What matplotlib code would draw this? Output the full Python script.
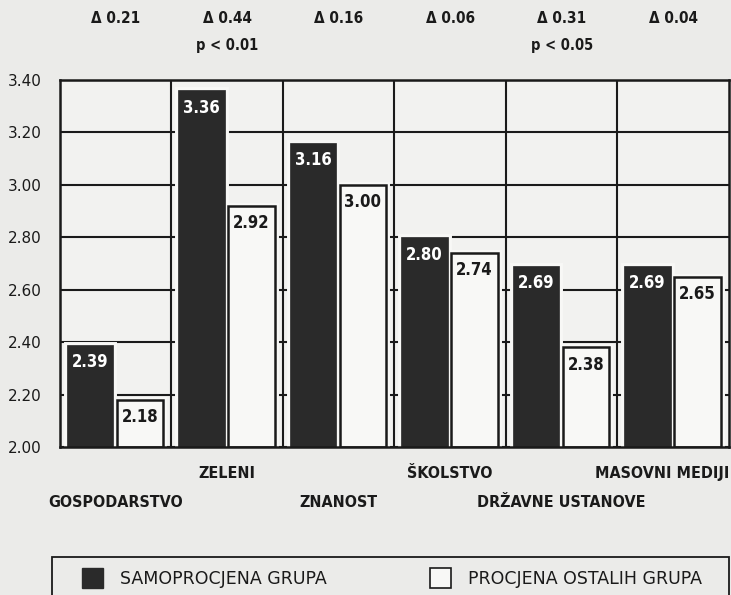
import matplotlib
matplotlib.use("Agg")
import matplotlib.pyplot as plt
import matplotlib.patches as patches
from matplotlib import font_manager
import numpy as np

# ---- data ----
categories = ["GOSPODARSTVO", "ZELENI", "ZNANOST", "ŠKOLSTVO",
              "DRŽAVNE USTANOVE", "MASOVNI MEDIJI"]
self_rating = [2.39, 3.36, 3.16, 2.80, 2.69, 2.69]
others_rating = [2.18, 2.92, 3.00, 2.74, 2.38, 2.65]
delta_labels = ["Δ 0.21", "Δ 0.44", "Δ 0.16", "Δ 0.06", "Δ 0.31", "Δ 0.04"]
p_labels = ["", "p < 0.01", "", "", "p < 0.05", ""]
series_names = ["SAMOPROCJENA GRUPA", "PROCJENA OSTALIH GRUPA"]
y_ticks = [2.00, 2.20, 2.40, 2.60, 2.80, 3.00, 3.20, 3.40]

# ---- style ----
BG = "#ebebe9"
PANEL = "#f2f2f0"
HALO = "#f8f8f6"
DARK = "#2a2a2a"
INK = "#1a1a1a"

# look for a condensed bold face, otherwise fall back to DejaVu Sans
narrow_file = None
for key in ["LiberationSansNarrow-Bold", "DejaVuSansCondensed-Bold",
            "RobotoCondensed-Bold", "OpenSansCondensed-Bold", "NotoSans-CondensedBold",
            "Roboto_Condensed-Bold", "OpenSans_Condensed-Bold"]:
    for f in font_manager.fontManager.ttflist:
        if key.lower() in f.fname.lower().replace(" ", ""):
            narrow_file = f.fname
            break
    if narrow_file:
        break
if narrow_file:
    NARROW = dict(fontproperties=font_manager.FontProperties(fname=narrow_file))
    scale = 1.0
else:
    NARROW = dict(family="DejaVu Sans", fontweight="bold")
    scale = 0.82
plt.rcParams["font.family"] = ["DejaVu Sans"]


def narrow(size):
    d = dict(NARROW)
    if "fontproperties" in d:
        fp = d["fontproperties"].copy()
        fp.set_size(size)
        return dict(fontproperties=fp)
    d["fontsize"] = size * scale
    return d


W, H = 731, 595
fig = plt.figure(figsize=(W / 100, H / 100), dpi=100, facecolor=BG)
ax = fig.add_axes([60 / W, (H - 447) / H, (729 - 60) / W, (447 - 80) / H])
ax.set_facecolor(PANEL)

n = len(categories)
x = np.arange(n)
bw = 0.415
off_dark, off_light = 0.27, 0.717

ax.set_xlim(0, n)
ax.set_ylim(2.0, 3.4)

# grid
ax.set_yticks(y_ticks)
ax.set_yticklabels([f"{v:.2f}" for v in y_ticks], fontsize=11, color=INK)
ax.set_xticks(np.arange(1, n), minor=True)
ax.set_xticks([])
ax.tick_params(axis="both", which="both", length=0, pad=13)
ax.grid(True, axis="y", color=INK, lw=1.5, zorder=1)
ax.grid(True, axis="x", which="minor", color=INK, lw=1.5, zorder=1)
ax.set_axisbelow(True)
for s in ax.spines.values():
    s.set_color(INK)
    s.set_linewidth(1.8)
    s.set_zorder(10)

# white halo behind bars
ax.bar(x + off_dark, np.array(self_rating) - 2.0, bw, bottom=2.0,
       color=HALO, edgecolor=HALO, lw=5, zorder=2)
ax.bar(x + off_light, np.array(others_rating) - 2.0, bw, bottom=2.0,
       color=HALO, edgecolor=HALO, lw=5, zorder=2)

ax.bar(x + off_dark, np.array(self_rating) - 2.0, bw, bottom=2.0,
       color=DARK, edgecolor=DARK, lw=0.5, zorder=3)
ax.bar(x + off_light, np.array(others_rating) - 2.0, bw, bottom=2.0,
       color=HALO, edgecolor=INK, lw=1.8, zorder=3)

for i in range(n):
    ax.annotate(f"{self_rating[i]:.2f}", (x[i] + off_dark, self_rating[i]),
                xytext=(0, -12.5), textcoords="offset points", ha="center",
                va="center", color="white", zorder=5, **narrow(12))
    ax.annotate(f"{others_rating[i]:.2f}", (x[i] + off_light, others_rating[i]),
                xytext=(0, -12.5), textcoords="offset points", ha="center",
                va="center", color=INK, zorder=5, **narrow(12))
    # deltas on top
    ax.annotate(delta_labels[i], (x[i] + 0.5, 1.0), xycoords=("data", "axes fraction"),
                xytext=(0, 44), textcoords="offset points", ha="center",
                va="center", color=INK, annotation_clip=False, **narrow(11))
    if p_labels[i]:
        ax.annotate(p_labels[i], (x[i] + 0.5, 1.0), xycoords=("data", "axes fraction"),
                    xytext=(0, 25), textcoords="offset points", ha="center",
                    va="center", color=INK, annotation_clip=False, **narrow(10.5))
    # staggered category labels (last one kept inside the right edge)
    dy = -19 if i % 2 else -40
    if i == n - 1:
        ax.annotate(categories[i], (n, 0.0), xycoords=("data", "axes fraction"),
                    xytext=(0, dy), textcoords="offset points", ha="right",
                    va="center", color=INK, annotation_clip=False, **narrow(11.5))
    else:
        ax.annotate(categories[i], (x[i] + 0.5, 0.0), xycoords=("data", "axes fraction"),
                    xytext=(0, dy), textcoords="offset points", ha="center",
                    va="center", color=INK, annotation_clip=False, **narrow(11.5))

# legend box
fig.patches.append(patches.Rectangle((52 / W, -0.01), (729 - 52) / W, (595 - 557) / H + 0.01,
                                     transform=fig.transFigure, facecolor="none",
                                     edgecolor=INK, lw=1.3))
handles = [patches.Patch(facecolor=DARK, edgecolor=DARK),
           patches.Patch(facecolor=HALO, edgecolor=INK, lw=1.2)]
fig.legend(handles, series_names, loc="center left", ncol=2, mode="expand",
           bbox_to_anchor=(82 / W, 1 - 578 / H, (702 - 82) / W, 0.0001),
           frameon=False, fontsize=12.5, handlelength=1.2, handleheight=1.4,
           handletextpad=1.0, borderpad=0, borderaxespad=0,
           labelcolor=INK)

fig.savefig("out.png", dpi=100, facecolor=BG)
